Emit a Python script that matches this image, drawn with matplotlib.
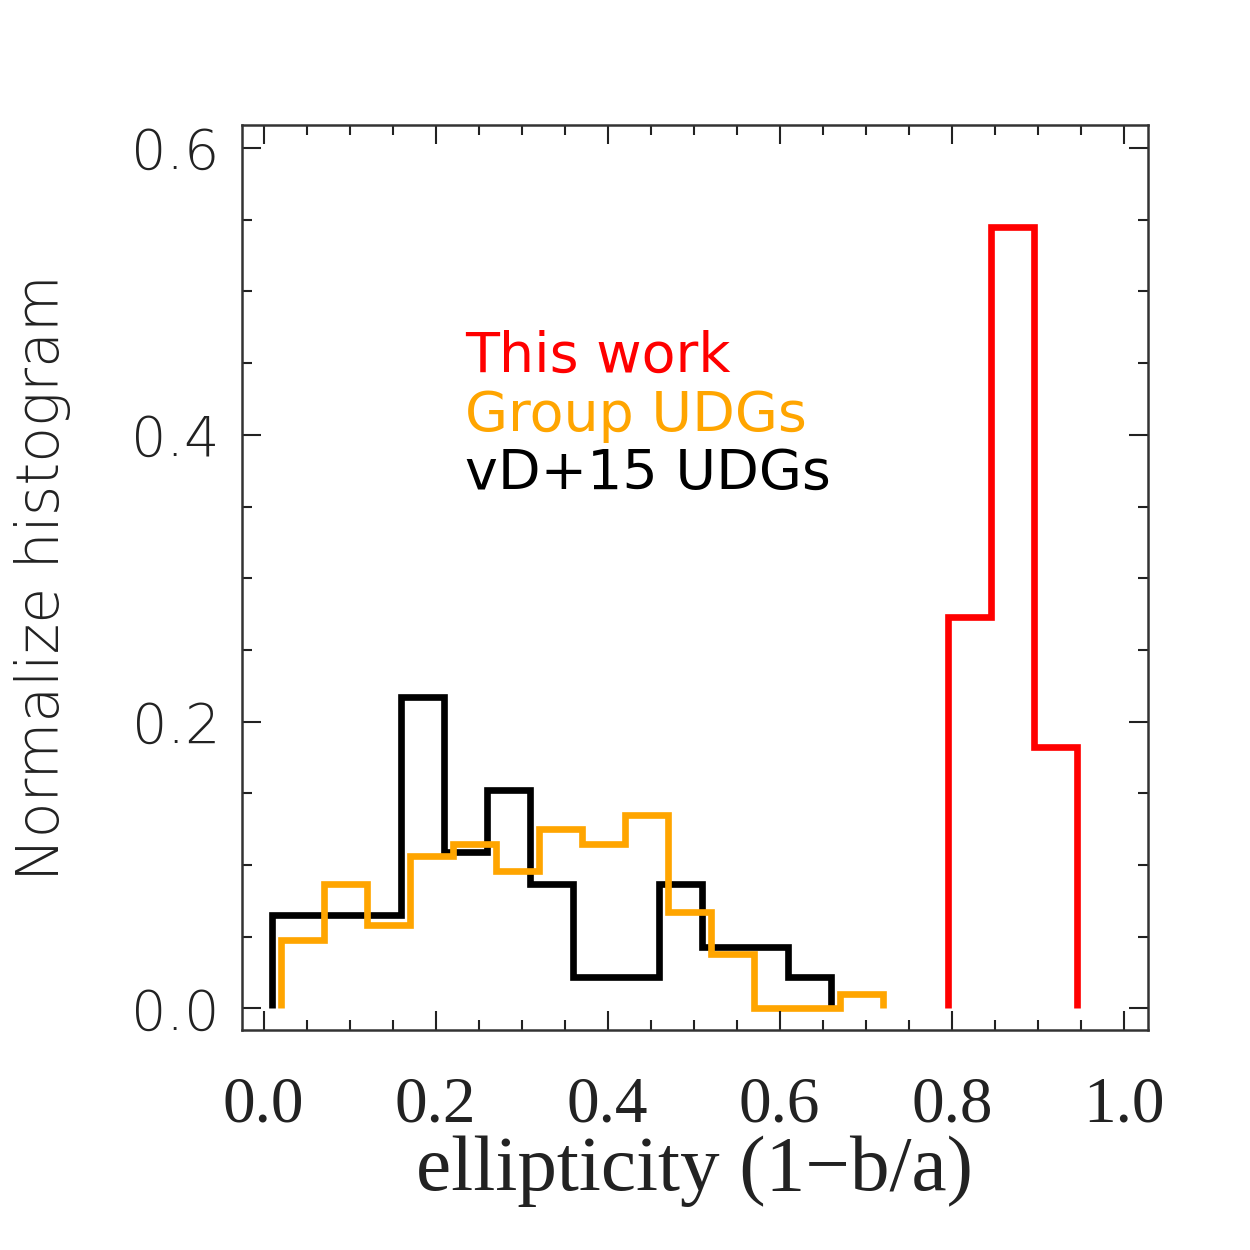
import numpy as np
import matplotlib
matplotlib.use("Agg")
import matplotlib.pyplot as plt
from matplotlib.ticker import MultipleLocator

# bin edges and normalized histogram heights
vd15_edges = [0.01, 0.06, 0.11, 0.16, 0.21, 0.26, 0.31, 0.36, 0.41, 0.46, 0.51, 0.56, 0.61, 0.66]
vd15_hist = [0.065, 0.065, 0.065, 0.217, 0.109, 0.152, 0.087, 0.022, 0.022, 0.087, 0.043, 0.043, 0.022]

group_edges = [0.02, 0.07, 0.12, 0.17, 0.22, 0.27, 0.32, 0.37, 0.42, 0.47, 0.52, 0.57, 0.62, 0.67, 0.72]
group_hist = [0.048, 0.087, 0.058, 0.106, 0.115, 0.096, 0.125, 0.115, 0.135, 0.067, 0.038, 0.0, 0.0, 0.010]

this_edges = [0.795, 0.845, 0.895, 0.945]
this_hist = [0.273, 0.545, 0.182]

labels = ["This work", "Group UDGs", "vD+15 UDGs"]
colors = ["#ff0000", "#ffa500", "#000000"]

fig = plt.figure(figsize=(12.5, 12.5), dpi=100)
ax = fig.add_axes([0.1936, 0.176, 0.7248, 0.724])

lw = 4.8
ax.stairs(vd15_hist, vd15_edges, baseline=0, color=colors[2], lw=lw)
ax.stairs(group_hist, group_edges, baseline=0, color=colors[1], lw=lw)
ax.stairs(this_hist, this_edges, baseline=0, color=colors[0], lw=lw)

ax.set_xlim(-0.025, 1.028)
ax.set_ylim(-0.015, 0.616)

ax.xaxis.set_major_locator(MultipleLocator(0.2))
ax.xaxis.set_minor_locator(MultipleLocator(0.05))
ax.yaxis.set_major_locator(MultipleLocator(0.2))
ax.yaxis.set_minor_locator(MultipleLocator(0.05))
ax.xaxis.set_major_formatter(lambda v, p: f"{v:.1f}")
ax.yaxis.set_major_formatter(lambda v, p: f"{v:.1f}")

ax.tick_params(which="both", direction="in", top=True, right=True, width=1.5, color="#222222")
ax.tick_params(which="major", length=14)
ax.tick_params(which="minor", length=7)
ax.tick_params(axis="x", pad=33)
ax.tick_params(axis="y", pad=16)
for s in ax.spines.values():
    s.set_linewidth(1.8)
    s.set_color("#333333")

for t in ax.get_xticklabels():
    t.set_fontfamily("Liberation Serif")
    t.set_fontsize(47)
    t.set_color("#222222")
for t in ax.get_yticklabels():
    t.set_fontfamily("DejaVu Sans")
    t.set_fontweight("light")
    t.set_fontsize(40)
    t.set_color("#222222")

ax.set_xlabel("ellipticity (1\u2212b/a)", fontfamily="Liberation Serif", fontsize=57,
              color="#222222")
ax.xaxis.set_label_coords(0.5, -0.117)
ax.set_ylabel("Normalize histogram", fontfamily="DejaVu Sans", fontweight="light",
              fontsize=42, color="#222222")
ax.yaxis.set_label_coords(-0.188, 0.5)

ys = [0.727, 0.662, 0.598]
for lab, c, y in zip(labels, colors, ys):
    ax.text(0.246, y, lab, transform=ax.transAxes, color=c, fontsize=40,
            fontfamily="DejaVu Sans", va="baseline", ha="left")

fig.savefig("out.png", dpi=100)
